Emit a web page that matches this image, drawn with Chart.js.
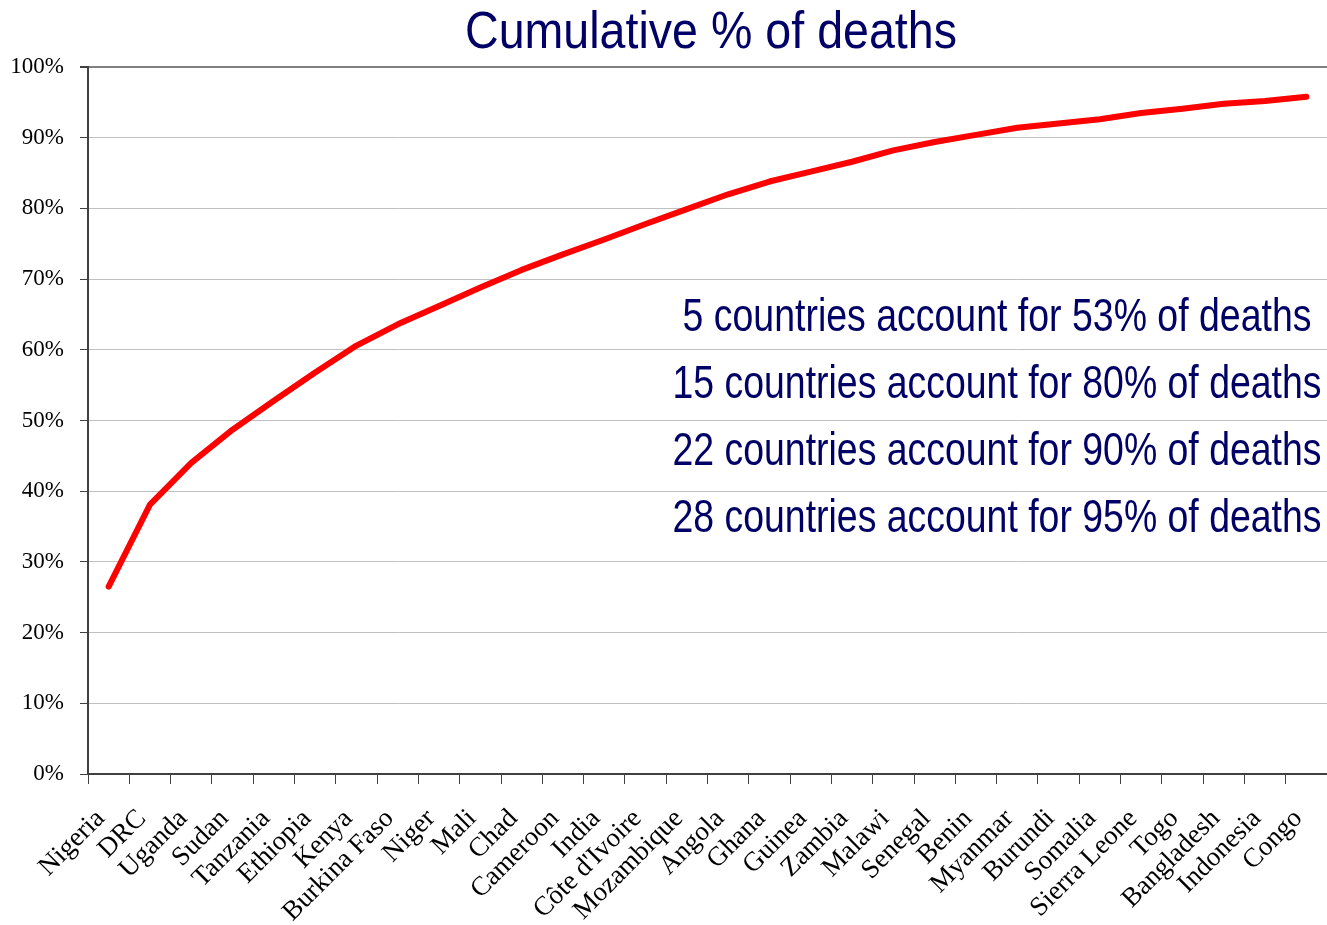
<!DOCTYPE html>
<html>
<head>
<meta charset="utf-8">
<script src="https://cdn.jsdelivr.net/npm/chart.js@4.4.1/dist/chart.umd.min.js"></script>
<style>
  html, body { margin: 0; padding: 0; background: #ffffff; overflow: hidden; }
  #wrap { width: 1327px; height: 925px; position: relative; }
</style>
</head>
<body>
<div id="wrap"><canvas id="chart"></canvas></div>
<script>
// Countries ranked by share of deaths, with the running cumulative share (%)
const countries = [
  'Nigeria', 'DRC', 'Uganda', 'Sudan', 'Tanzania', 'Ethiopia', 'Kenya',
  'Burkina Faso', 'Niger', 'Mali', 'Chad', 'Cameroon', 'India',
  "Côte d'Ivoire", 'Mozambique', 'Angola', 'Ghana', 'Guinea', 'Zambia',
  'Malawi', 'Senegal', 'Benin', 'Myanmar', 'Burundi', 'Somalia',
  'Sierra Leone', 'Togo', 'Bangladesh', 'Indonesia', 'Congo'
];
const cumulativePct = [
  26.5, 38.1, 44.0, 48.7, 52.8, 56.8, 60.6,
  63.6, 66.2, 68.8, 71.3, 73.5, 75.6,
  77.8, 79.9, 82.0, 83.8, 85.2, 86.6,
  88.2, 89.4, 90.4, 91.4, 92.0, 92.6,
  93.5, 94.1, 94.8, 95.2, 95.8
];
const yTickValues = [0, 10, 20, 30, 40, 50, 60, 70, 80, 90, 100];
const chartTitle = 'Cumulative % of deaths';
const notes = [
  '5 countries account for 53% of deaths',
  '15 countries account for 80% of deaths',
  '22 countries account for 90% of deaths',
  '28 countries account for 95% of deaths'
];

const NAVY = '#000066';
const NARROW = "'Liberation Sans Narrow', 'Arial Narrow', 'Liberation Sans', sans-serif";
const SERIF = "'Liberation Serif', 'Times New Roman', serif";

// Draws a centred string squeezed to a given width (condensed display face)
function drawFitted(ctx, text, cx, baseline, size, width) {
  ctx.save();
  ctx.font = size + 'px ' + NARROW;
  ctx.fillStyle = NAVY;
  ctx.textAlign = 'left';
  ctx.textBaseline = 'alphabetic';
  const w = ctx.measureText(text).width;
  const k = width / w;
  ctx.translate(cx - width / 2, baseline);
  ctx.scale(k, 1);
  ctx.fillText(text, 0, 0);
  ctx.restore();
}

const textLayer = {
  id: 'textLayer',
  afterDraw(chart) {
    const ctx = chart.ctx;
    drawFitted(ctx, chartTitle, 711, 48, 52, 492);
    const widths = [629, 649, 649, 649];
    notes.forEach((t, i) => {
      drawFitted(ctx, t, 997, 331 + i * 67, 46, widths[i]);
    });
  }
};

new Chart(document.getElementById('chart'), {
  type: 'line',
  data: {
    labels: countries,
    datasets: [{
      data: cumulativePct,
      borderColor: '#ff0000',
      borderWidth: 6,
      borderCapStyle: 'round',
      borderJoinStyle: 'round',
      pointRadius: 0,
      pointHoverRadius: 0,
      tension: 0,
      fill: false
    }]
  },
  options: {
    responsive: true,
    maintainAspectRatio: false,
    animation: false,
    events: [],
    layout: { padding: { top: 67, left: 0, right: 0, bottom: 0 } },
    plugins: {
      legend: { display: false },
      tooltip: { enabled: false },
      title: { display: false }
    },
    scales: {
      x: {
        offset: true,
        grid: {
          offset: true,
          drawOnChartArea: false,
          drawTicks: true,
          tickLength: 10,
          tickColor: '#404040',
          tickWidth: 1
        },
        border: { color: '#404040', width: 2 },
        ticks: {
          autoSkip: false,
          maxRotation: 45,
          minRotation: 45,
          color: '#000000',
          padding: 19,
          labelOffset: -8,
          font: { family: SERIF, size: 27 }
        },
        afterFit(scale) {
          scale.height = 151;
          scale.paddingLeft = 0;
          scale.paddingRight = 0;
        }
      },
      y: {
        min: 0,
        max: 100,
        afterBuildTicks(scale) { scale.ticks = yTickValues.map(v => ({ value: v })); },
        grid: {
          color: c => (c.tick && c.tick.value === 100) ? '#808080' : '#c0c0c0',
          lineWidth: c => (c.tick && c.tick.value === 100) ? 2 : 1,
          tickColor: '#404040',
          tickLength: 8
        },
        border: { color: '#404040', width: 2 },
        ticks: {
          color: '#000000',
          padding: 16,
          font: { family: SERIF, size: 23 },
          callback: v => v + '%'
        },
        afterFit(scale) {
          scale.width = 88;
          scale.paddingTop = 0;
          scale.paddingBottom = 0;
        }
      }
    }
  },
  plugins: [textLayer]
});
</script>
</body>
</html>
